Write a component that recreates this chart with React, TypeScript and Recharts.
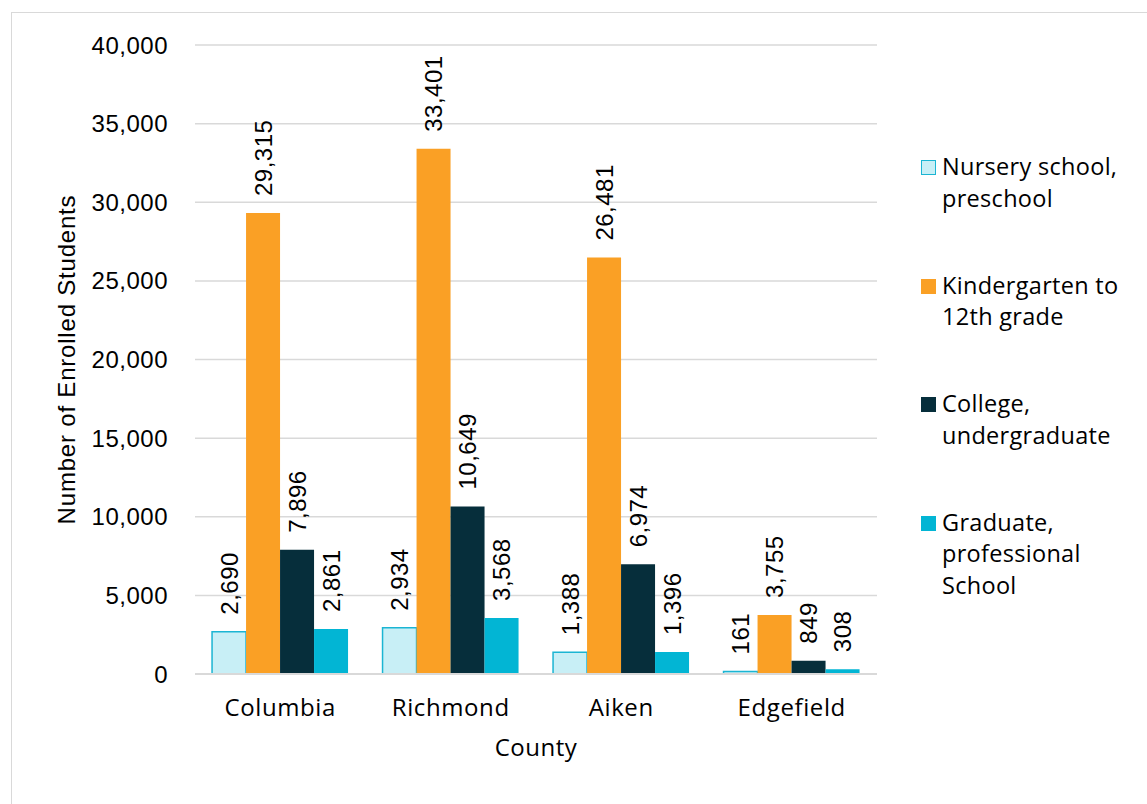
import React from 'react';
import { BarChart, Bar, XAxis, YAxis, CartesianGrid, LabelList } from 'recharts';

// Enrollment by county and school level
const counties = ['Columbia', 'Richmond', 'Aiken', 'Edgefield'];
const nursery = [2690, 2934, 1388, 161];
const k12 = [29315, 33401, 26481, 3755];
const college = [7896, 10649, 6974, 849];
const graduate = [2861, 3568, 1396, 308];
const yTicks = [0, 5000, 10000, 15000, 20000, 25000, 30000, 35000, 40000];

const seriesInfo = [
  { key: 'nursery', name: 'Nursery school, preschool', lines: ['Nursery school,', 'preschool'], fill: '#C8EFF6', stroke: '#1BB5D3' },
  { key: 'k12', name: 'Kindergarten to 12th grade', lines: ['Kindergarten to', '12th grade'], fill: '#FAA025', stroke: 'none' },
  { key: 'college', name: 'College, undergraduate', lines: ['College,', 'undergraduate'], fill: '#062E3B', stroke: 'none' },
  { key: 'graduate', name: 'Graduate, professional School', lines: ['Graduate,', 'professional', 'School'], fill: '#02B5D4', stroke: 'none' },
];

const data = counties.map((c, i) => ({
  county: c,
  nursery: nursery[i],
  k12: k12[i],
  college: college[i],
  graduate: graduate[i],
}));

const fmt = (v: number) => v.toLocaleString('en-US');

const labelFont = '"Liberation Sans", Arial, sans-serif';
const textFont = '"Open Sans", "Noto Sans", sans-serif';

const VerticalValue = (props: any) => {
  const { x, y, width, value } = props;
  const cx = x + width / 2;
  const by = y - 17;
  return (
    <text
      x={cx}
      y={by}
      transform={`rotate(-90 ${cx} ${by})`}
      textAnchor="start"
      dominantBaseline="central"
      fontFamily={labelFont}
      fontSize={24}
      style={{ letterSpacing: 0.5 }}
      fill="#000"
    >
      {fmt(value)}
    </text>
  );
};

const LegendBlock = () => (
  <div
    style={{
      position: 'absolute',
      left: 918,
      top: 151,
      width: 229,
      height: 480,
      fontFamily: textFont,
      fontSize: 23.5,
      letterSpacing: 0.3,
      color: '#000',
    }}
  >
    {seriesInfo.map((s, i) => (
      <div key={s.key} style={{ position: 'absolute', left: 0, top: i * 118.5 }}>
        <div
          style={{
            position: 'absolute',
            left: 3,
            top: 9,
            width: s.stroke === 'none' ? 15 : 13,
            height: s.stroke === 'none' ? 15 : 13,
            background: s.fill,
            border: s.stroke === 'none' ? 'none' : `1px solid ${s.stroke}`,
          }}
        />
        <div style={{ position: 'absolute', left: 24, top: 0, lineHeight: '31.5px', whiteSpace: 'nowrap' }}>
          {s.lines.map((l) => (
            <div key={l}>{l}</div>
          ))}
        </div>
      </div>
    ))}
  </div>
);

export default function App() {
  return (
    <div style={{ position: 'absolute', left: 0, top: 0, width: 1147, height: 804, overflow: 'hidden', background: '#fff' }}>
      <div
        style={{
          position: 'absolute',
          left: 11,
          top: 12,
          width: 1200,
          height: 900,
          border: '1px solid #d9d9d9',
        }}
      />
      <BarChart
        width={1147}
        height={804}
        data={data}
        margin={{ top: 45, right: 270, bottom: 70, left: 0 }}
        barGap={0}
        barCategoryGap="10%"
        style={{ position: 'absolute', left: 0, top: 0 }}
      >
        <CartesianGrid vertical={false} stroke="#d9d9d9" strokeWidth={1.5} />
        <XAxis
          dataKey="county"
          height={60}
          tickLine={false}
          tickSize={0}
          tickMargin={25}
          axisLine={{ stroke: '#d9d9d9', strokeWidth: 2 }}
          tick={{ fontFamily: textFont, fontSize: 24, fill: '#000', style: { letterSpacing: 0.6 } }}
          label={{
            value: 'County',
            position: 'bottom',
            offset: 5,
            style: { fontFamily: textFont, fontSize: 24, fill: '#000', letterSpacing: 0.5 },
          }}
        />
        <YAxis
          width={195}
          domain={[0, 40000]}
          ticks={yTicks}
          tickFormatter={fmt}
          tickLine={false}
          tickSize={0}
          tickMargin={27}
          axisLine={false}
          tick={{ fontFamily: labelFont, fontSize: 24, fill: '#000', style: { letterSpacing: 0.5 } }}
          label={(p: any) => {
            const vb = p.viewBox;
            const lx = vb.x + 66;
            const ly = vb.y + vb.height / 2;
            return (
              <text
                x={lx}
                y={ly}
                transform={`rotate(-90 ${lx} ${ly})`}
                textAnchor="middle"
                dominantBaseline="central"
                fontFamily={labelFont}
                fontSize={24}
                style={{ letterSpacing: 0.8 }}
                fill="#000"
              >
                Number of Enrolled Students
              </text>
            );
          }}
        />
        {seriesInfo.map((s) => (
          <Bar
            key={s.key}
            dataKey={s.key}
            name={s.name}
            fill={s.fill}
            stroke={s.stroke}
            strokeWidth={s.stroke === 'none' ? 0 : 1.5}
            isAnimationActive={false}
          >
            <LabelList dataKey={s.key} content={<VerticalValue />} />
          </Bar>
        ))}
      </BarChart>
      <LegendBlock />
    </div>
  );
}
